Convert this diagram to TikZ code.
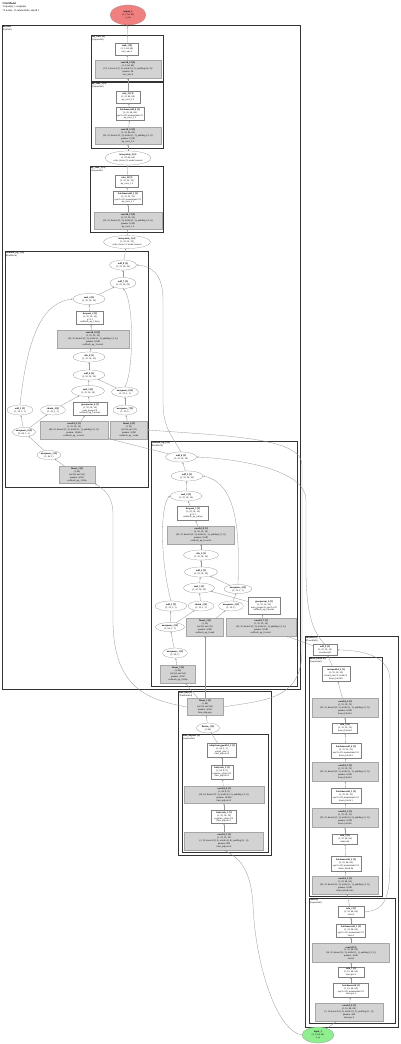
\documentclass[tikz,border=0pt]{standalone}
\usepackage{fontspec}
\setmainfont{Liberation Serif}
\usetikzlibrary{arrows.meta,positioning,shapes.geometric}
\definecolor{layerfill}{RGB}{211,211,211}
\definecolor{outfill}{RGB}{240,128,128}
\definecolor{infill}{RGB}{144,238,144}
\definecolor{linkcolor}{RGB}{150,150,150}

\begin{document}
\begin{tikzpicture}[x=1pt, y=-1pt, >={Stealth[length=1.8pt,width=1.4pt]},
    every node/.style={font=\fontsize{2.4}{2.9}\selectfont, align=center, inner sep=0.4pt},
    sz/.style 2 args={minimum width=#1pt, minimum height=#2pt},
    tensor/.style={ellipse, draw=black!50, line width=0.2pt, fill=white, inner sep=0pt},
    module/.style={rectangle, draw=black!50, line width=0.2pt, fill=white},
    layer/.style={rectangle, draw=black!35, line width=0.2pt, fill=layerfill},
    cluster/.style={draw=black!80, line width=0.7pt},
    clabel/.style={anchor=north west, align=left, inner sep=0.7pt},
    link/.style={->, draw=linkcolor, line width=0.3pt}]
  \useasboundingbox (0,0) rectangle (400,1044);
  \fill[white] (0,0) rectangle (400,1044);
  \node[anchor=north west, align=left, font=\fontsize{2.7}{3.3}\selectfont] (title) at (2,2)
    {\textbf{UNetModel}\\1 input(s), 1 output(s)\\72 nodes, 11 submodules, depth 3};
  \node[tensor, fill=outfill, draw=black!45, sz={36}{20}] (out) at (128,15) {\textbf{output\_1}\\(1, 3, 64, 64)\\x\_out};

  % clusters
  \draw[cluster] (2,25) rectangle (300,689);
  \node[clabel] at (2,25) {\textbf{decoder}\\(UpPath)};
  \draw[cluster] (91,35) rectangle (163,81);
  \node[clabel] at (91,35) {\textbf{out\_conv [4]}\\(Sequential)};
  \draw[cluster] (91,82) rectangle (163,148);
  \node[clabel] at (91,82) {\textbf{up\_conv\_2 [3]}\\(Sequential)};
  \draw[cluster] (90,166) rectangle (163,232);
  \node[clabel] at (90,166) {\textbf{up\_conv\_1 [3]}\\(Sequential)};
  \draw[cluster] (5,251) rectangle (148,487);
  \node[clabel] at (5,251) {\textbf{resblock\_up\_1 [2]}\\(ResBlock)};
  \draw[cluster] (151,441) rectangle (297,686);
  \node[clabel] at (151,441) {\textbf{resblock\_up\_0 [2]}\\(ResBlock)};
  \draw[cluster] (178,691) rectangle (271,855);
  \node[clabel] at (178,691) {\textbf{time\_mlp [1]}\\(TimeEmbed)};
  \draw[cluster] (182,734) rectangle (268,852);
  \node[clabel] at (182,734) {\textbf{time\_mlp.net [2]}\\(Sequential)};
  \draw[cluster] (305,636) rectangle (398,1027);
  \node[clabel] at (305,636) {\textbf{encoder [1]}\\(DownPath)};
  \draw[cluster] (309,657) rectangle (382,896);
  \node[clabel] at (309,657) {\textbf{down\_block [2]}\\(Sequential)};
  \draw[cluster] (309,898) rectangle (395,1023);
  \node[clabel] at (309,898) {\textbf{stem [2]}\\(Sequential)};

  % output side
  \node[module, sz={23}{12}] (b1w) at (127,49) {\textbf{tanh\_1 [4]}\\(1, 3, 64, 64)\\out\_conv.1};
  \node[layer, sz={66}{18}] (b1g) at (128,69) {\textbf{conv2d\_13 [4]}\\(1, 3, 64, 64)\\(32, 3, kernel=(1, 1), stride=(1, 1), padding=(0, 0))\\params: 99\\out\_conv.0};
  \node[module, sz={24}{12}] (b2a) at (128,97) {\textbf{relu\_12 [3]}\\(1, 32, 64, 64)\\up\_conv\_2.2};
  \node[module, sz={28}{13}] (b2b) at (130,114) {\textbf{batchnorm2d\_6 [3]}\\(1, 32, 64, 64)\\eps=1e-05, momentum=0.1\\up\_conv\_2.1};
  \node[layer, sz={66}{17}] (b2c) at (128,136) {\textbf{conv2d\_12 [3]}\\(1, 32, 64, 64)\\(32, 32, kernel=(3, 3), stride=(1, 1), padding=(1, 1))\\params: 9,248\\up\_conv\_2.0};
  \node[tensor, sz={46}{14}] (e1) at (128,158) {\textbf{interpolate\_2 [2]}\\(1, 32, 64, 64)\\scale\_factor=2, mode=nearest};
  \node[module, sz={23}{12}] (b3a) at (127,181) {\textbf{relu\_11 [3]}\\(1, 32, 32, 32)\\up\_conv\_1.2};
  \node[module, sz={29}{13}] (b3b) at (128,198) {\textbf{batchnorm2d\_5 [3]}\\(1, 32, 32, 32)\\eps=1e-05, momentum=0.1\\up\_conv\_1.1};
  \node[layer, sz={68}{17}] (b3c) at (128,221) {\textbf{conv2d\_11 [3]}\\(1, 32, 32, 32)\\(32, 32, kernel=(3, 3), stride=(1, 1), padding=(1, 1))\\params: 9,248\\up\_conv\_1.0};
  \node[tensor, sz={47}{13}] (e2) at (127,242) {\textbf{interpolate\_1 [2]}\\(1, 32, 32, 32)\\scale\_factor=2, mode=nearest};

  % resblock up 1
  \node[tensor, sz={27}{10}] (c1) at (123,265) {\textbf{add\_8 [2]}\\(1, 32, 16, 16)};
  \node[tensor, sz={26}{11}] (c2) at (123,283) {\textbf{add\_7 [3]}\\(1, 32, 16, 16)};
  \node[tensor, sz={32}{11}] (c3) at (89,299) {\textbf{mul\_4 [3]}\\(1, 32, 16, 16)};
  \node[module, sz={27}{13}] (c4) at (90,318) {\textbf{dropout\_2 [3]}\\(1, 32, 16, 16)\\p=0.1\\resblock\_up\_1.drop};
  \node[layer, sz={72}{18}] (c5) at (93,339) {\textbf{conv2d\_10 [3]}\\(1, 32, 16, 16)\\(32, 32, kernel=(3, 3), stride=(1, 1), padding=(1, 1))\\params: 9,248\\resblock\_up\_1.conv2};
  \node[tensor, sz={32}{10}] (c6) at (89,357) {\textbf{silu\_6 [3]}\\(1, 32, 16, 16)};
  \node[tensor, sz={32}{10}] (c7) at (89,375) {\textbf{add\_6 [3]}\\(1, 32, 16, 16)};
  \node[tensor, sz={33}{11}] (c8) at (88,391) {\textbf{mul\_3 [3]}\\(1, 32, 16, 16)};
  \node[tensor, sz={27}{10}] (c9) at (125,392) {\textbf{unsqueeze\_8 [3]}\\(1, 32, 1, 1)};
  \node[module, sz={34}{13}] (c10) at (90,409) {\textbf{groupnorm\_4 [3]}\\(1, 32, 16, 16)\\num\_groups=8\\resblock\_up\_1.norm1};
  \node[tensor, sz={26}{10}] (c11) at (20,410) {\textbf{add\_5 [3]}\\(1, 32, 1, 1)};
  \node[tensor, sz={25}{10}] (c12) at (53,410) {\textbf{chunk\_4 [3]}\\(1, 32, 1, 1)};
  \node[tensor, sz={24}{10}] (c13) at (125,410) {\textbf{unsqueeze\_7 [3]}\\(1, 32, 1)};
  \node[layer, sz={68}{18}] (c14) at (74,430) {\textbf{conv2d\_9 [3]}\\(1, 32, 16, 16)\\(64, 32, kernel=(3, 3), stride=(1, 1), padding=(1, 1))\\params: 18,464\\resblock\_up\_1.conv1};
  \node[layer, sz={37}{18}] (c15) at (129,430) {\textbf{linear\_6 [3]}\\(1, 32)\\(in=64, out=32)\\params: 2,080\\resblock\_up\_1.emb};
  \node[tensor, sz={22}{9}] (c16) at (24,432) {\textbf{unsqueeze\_6 [3]}\\(1, 64, 1, 1)};
  \node[tensor, sz={24}{9}] (c17) at (49,455) {\textbf{unsqueeze\_5 [3]}\\(1, 64, 1)};
  \node[layer, sz={36}{17}] (c18) at (77,475) {\textbf{linear\_5 [3]}\\(1, 64)\\(in=64, out=64)\\params: 4,160\\resblock\_up\_1.film};

  % resblock up 0
  \node[tensor, sz={31}{10}] (d1) at (181,457) {\textbf{add\_4 [2]}\\(1, 32, 16, 16)};
  \node[tensor, sz={32}{10}] (d2) at (187,476) {\textbf{add\_3 [3]}\\(1, 32, 16, 16)};
  \node[tensor, sz={32}{10}] (d3) at (186,496) {\textbf{mul\_2 [3]}\\(1, 32, 16, 16)};
  \node[module, sz={31}{14}] (d4) at (193,513) {\textbf{dropout\_1 [3]}\\(1, 32, 16, 16)\\p=0.1\\resblock\_up\_0.drop};
  \node[layer, sz={67}{18}] (d5) at (201,535) {\textbf{conv2d\_8 [3]}\\(1, 32, 16, 16)\\(32, 32, kernel=(3, 3), stride=(1, 1), padding=(1, 1))\\params: 9,248\\resblock\_up\_0.conv2};
  \node[tensor, sz={35}{10}] (d6) at (201,555) {\textbf{silu\_3 [3]}\\(1, 32, 16, 16)};
  \node[tensor, sz={33}{10}] (d7) at (201,572) {\textbf{add\_2 [3]}\\(1, 32, 16, 16)};
  \node[tensor, sz={31}{10}] (d8) at (199,588) {\textbf{mul\_1 [3]}\\(1, 32, 16, 16)};
  \node[tensor, sz={28}{9}] (d9) at (238,589) {\textbf{unsqueeze\_4 [3]}\\(1, 32, 1, 1)};
  \node[tensor, sz={32}{10}] (d10) at (171,606) {\textbf{add\_1 [3]}\\(1, 32, 1, 1)};
  \node[tensor, sz={26}{10}] (d11) at (201,606) {\textbf{chunk\_2 [3]}\\(1, 32, 1, 1)};
  \node[tensor, sz={25}{10}] (d12) at (231,606) {\textbf{unsqueeze\_3 [3]}\\(1, 32, 1)};
  \node[module, sz={32}{17}] (d13) at (264,606) {\textbf{groupnorm\_2 [3]}\\(1, 32, 16, 16)\\num\_groups=8, eps=1e-05\\resblock\_up\_0.norm1};
  \node[tensor, sz={29}{9}] (d14) at (170,627) {\textbf{unsqueeze\_2 [3]}\\(1, 64, 1, 1)};
  \node[layer, sz={37}{18}] (d15) at (205,627) {\textbf{linear\_3 [3]}\\(1, 32)\\(in=64, out=32)\\params: 2,080\\resblock\_up\_0.emb};
  \node[layer, sz={70}{18}] (d16) at (261,627) {\textbf{conv2d\_7 [3]}\\(1, 32, 16, 16)\\(32, 32, kernel=(3, 3), stride=(1, 1), padding=(1, 1))\\params: 9,248\\resblock\_up\_0.conv1};
  \node[tensor, sz={25}{10}] (d17) at (175,653) {\textbf{unsqueeze\_1 [3]}\\(1, 64, 1)};
  \node[layer, sz={35}{18}] (d18) at (178,674) {\textbf{linear\_2 [3]}\\(1, 64)\\(in=64, out=64)\\params: 4,160\\resblock\_up\_0.film};

  % time embedding
  \node[layer, sz={36}{17}] (m1) at (205,707) {\textbf{linear\_1 [2]}\\(1, 64)\\(in=64, out=64)\\params: 4,160\\time\_mlp.proj};
  \node[tensor, sz={23}{10}] (m2) at (208,728) {\textbf{flatten\_1 [2]}\\(1, 64)};
  \node[module, sz={29}{14}] (m3) at (222,750) {\textbf{adaptiveavgpool2d\_1 [3]}\\(1, 64, 1, 1)\\output\_size=1\\time\_mlp.net.4};
  \node[module, sz={22}{14}] (m4) at (222,772) {\textbf{leakyrelu\_2 [3]}\\(1, 64, 8, 8)\\negative\_slope=0.2\\time\_mlp.net.3};
  \node[layer, sz={80}{17}] (m5) at (224,795) {\textbf{conv2d\_6 [3]}\\(1, 64, 8, 8)\\(32, 64, kernel=(3, 3), stride=(2, 2), padding=(1, 1))\\params: 18,496\\time\_mlp.net.2};
  \node[module, sz={25}{13}] (m6) at (224,817) {\textbf{leakyrelu\_1 [3]}\\(1, 32, 16, 16)\\negative\_slope=0.2\\time\_mlp.net.1};
  \node[layer, sz={79}{18}] (m7) at (224,841) {\textbf{conv2d\_5 [3]}\\(1, 32, 16, 16)\\(3, 32, kernel=(3, 3), stride=(4, 4), padding=(1, 1))\\params: 896\\time\_mlp.net.0};

  % encoder
  \node[module, sz={24}{11}] (r0) at (325,650) {\textbf{add\_9 [2]}\\(1, 32, 16, 16)\\encoder.add};
  \node[module, sz={28}{15}] (r1) at (336,674) {\textbf{maxpool2d\_2 [3]}\\(1, 32, 16, 16)\\kernel\_size=2, stride=2\\down\_block.6};
  \node[layer, sz={66}{19}] (r2) at (345,708) {\textbf{conv2d\_4 [3]}\\(1, 32, 32, 32)\\(32, 32, kernel=(3, 3), stride=(1, 1), padding=(1, 1))\\params: 9,248\\down\_block.5};
  \node[module, sz={25}{10}] (r3) at (345,728) {\textbf{relu\_4 [3]}\\(1, 32, 32, 32)\\down\_block.4};
  \node[module, sz={30}{15}] (r4) at (346,751) {\textbf{batchnorm2d\_4 [3]}\\(1, 32, 32, 32)\\eps=1e-05, momentum=0.1\\down\_block.3};
  \node[layer, sz={66}{19}] (r5) at (345,772) {\textbf{conv2d\_3 [3]}\\(1, 32, 32, 32)\\(32, 32, kernel=(3, 3), stride=(1, 1), padding=(1, 1))\\params: 9,248\\down\_block.2};
  \node[module, sz={30}{15}] (r6) at (346,796) {\textbf{batchnorm2d\_3 [3]}\\(1, 32, 32, 32)\\eps=1e-05, momentum=0.1\\down\_block.1};
  \node[layer, sz={66}{19}] (r7) at (345,818) {\textbf{conv2d\_2 [3]}\\(1, 32, 32, 32)\\(32, 32, kernel=(3, 3), stride=(2, 2), padding=(1, 1))\\params: 9,248\\down\_block.0};
  \node[module, sz={25}{10}] (r8) at (345,839) {\textbf{relu\_3 [3]}\\(1, 32, 64, 64)\\stem.relu};
  \node[module, sz={30}{15}] (r9) at (346,864) {\textbf{batchnorm2d\_2 [3]}\\(1, 32, 64, 64)\\eps=1e-05, momentum=0.1\\down\_block.bn};
  \node[layer, sz={66}{18}] (r10) at (345,885) {\textbf{conv2d\_1 [3]}\\(1, 32, 64, 64)\\(32, 32, kernel=(3, 3), stride=(1, 1), padding=(1, 1))\\params: 9,248\\down\_block.conv};
  \node[module, sz={26}{11}] (s1) at (351,912) {\textbf{relu\_2 [3]}\\(1, 32, 64, 64)\\stem.2};
  \node[module, sz={29}{13}] (s2) at (351,931) {\textbf{batchnorm2d\_1 [3]}\\(1, 32, 64, 64)\\eps=1e-05, momentum=0.1\\stem.1};
  \node[layer, sz={77}{19}] (s3) at (351,953) {\textbf{conv2d [3]}\\(1, 32, 64, 64)\\(16, 32, kernel=(3, 3), stride=(1, 1), padding=(1, 1))\\params: 4,640\\stem.0};
  \node[module, sz={26}{10}] (s4) at (351,972) {\textbf{relu\_1 [3]}\\(1, 16, 64, 64)\\stem.pre.2};
  \node[module, sz={35}{14}] (s5) at (351,990) {\textbf{batchnorm2d [3]}\\(1, 16, 64, 64)\\eps=1e-05, momentum=0.1\\stem.pre.1};
  \node[layer, sz={68}{18}] (s6) at (349,1012) {\textbf{conv2d\_0 [3]}\\(1, 16, 64, 64)\\(3, 16, kernel=(3, 3), stride=(1, 1), padding=(1, 1))\\params: 448\\stem.pre.0};
  \node[tensor, fill=infill, draw=black!45, sz={32}{16}] (in) at (318,1035) {\textbf{input\_1}\\(1, 3, 64, 64)\\x\_in};

  % output chain
  \draw[link] (b1w) -- (out);
  \draw[link] (b1g) -- (b1w);
  \draw[link] (b2a) -- (b1g);
  \draw[link] (b2b) -- (b2a);
  \draw[link] (b2c) -- (b2b);
  \draw[link] (e1) -- (b2c);
  \draw[link] (b3a) -- (e1);
  \draw[link] (b3b) -- (b3a);
  \draw[link] (b3c) -- (b3b);
  \draw[link] (e2) -- (b3c);
  \draw[link] (c1) -- (e2);
  % resblock up 1
  \draw[link] (c2) -- (c1);
  \draw[link] (c3) -- (c2);
  \draw[link] (c4) -- (c3);
  \draw[link] (c5) -- (c4);
  \draw[link] (c6) -- (c5);
  \draw[link] (c7) -- (c6);
  \draw[link] (c8) -- (c7);
  \draw[link] (c9) -- (c7);
  \draw[link] (c9.north) .. controls (134,370) and (134,300) .. (c2.south);
  \draw[link] (c10) -- (c8);
  \draw[link] (c12) -- (c8);
  \draw[link] (c11.north) .. controls (28,330) and (45,302) .. (c3.west);
  \draw[link] (c13) -- (c9);
  \draw[link] (c14) -- (c10);
  \draw[link] (c15) -- (c13);
  \draw[link] (c16) -- (c11);
  \draw[link] (c16) -- (c12);
  \draw[link] (c17) -- (c16);
  \draw[link] (c18) -- (c17);
  % resblock up 0
  \draw[link] (d2) -- (d1);
  \draw[link] (d3) -- (d2);
  \draw[link] (d4) -- (d3);
  \draw[link] (d5) -- (d4);
  \draw[link] (d6) -- (d5);
  \draw[link] (d7) -- (d6);
  \draw[link] (d8) -- (d7);
  \draw[link] (d9) -- (d7);
  \draw[link] (d9.north) .. controls (239,540) and (240,484) .. (d2.east);
  \draw[link] (d11) -- (d8);
  \draw[link] (d13) -- (d8);
  \draw[link] (d10.north) .. controls (160,560) and (160,505) .. (d3.west);
  \draw[link] (d12) -- (d9);
  \draw[link] (d15) -- (d12);
  \draw[link] (d16) -- (d13);
  \draw[link] (d14) -- (d10);
  \draw[link] (d14) -- (d11);
  \draw[link] (d17) -- (d14);
  \draw[link] (d18) -- (d17);
  \draw[link] (d1) -- (c14);
  \draw[link] (d1.north) .. controls (168,430) and (163,425) .. (163,400) -- (163,300) .. controls (163,272) and (150,266) .. (c1.east);
  % time embedding
  \draw[link] (m7) -- (m6);
  \draw[link] (m6) -- (m5);
  \draw[link] (m5) -- (m4);
  \draw[link] (m4) -- (m3);
  \draw[link] (m3) -- (m2);
  \draw[link] (m2) -- (m1);
  \draw[link] (m1) -- (d18);
  \draw[link] (m1) -- (d15);
  \draw[link] (m1.west) .. controls (150,700) and (113,690) .. (113,620) -- (113,515) .. controls (113,495) and (104,490) .. (c18.south east);
  \draw[link] (m1.east) .. controls (265,700) and (302,700) .. (302,650) -- (302,465) .. controls (302,438) and (230,436) .. (c15.east);
  % encoder
  \draw[link] (in) -- (s6);
  \draw[link] (in.west) .. controls (275,1030) and (255,960) .. (253,905) .. controls (251,870) and (240,858) .. (m7.south);
  \draw[link] (s6) -- (s5);
  \draw[link] (s5) -- (s4);
  \draw[link] (s4) -- (s3);
  \draw[link] (s3) -- (s2);
  \draw[link] (s2) -- (s1);
  \draw[link] (s1) -- (r10);
  \draw[link] (r10) -- (r9);
  \draw[link] (r9) -- (r8);
  \draw[link] (r8) -- (r7);
  \draw[link] (r7) -- (r6);
  \draw[link] (r6) -- (r5);
  \draw[link] (r5) -- (r4);
  \draw[link] (r4) -- (r3);
  \draw[link] (r3) -- (r2);
  \draw[link] (r2) -- (r1);
  \draw[link] (r1) -- (r0);
  \draw[link] (s1.east) .. controls (385,910) and (390,900) .. (390,860) -- (390,680) .. controls (390,655) and (360,650) .. (r0.east);
  \draw[link] (r0) -- (d16);
  \draw[link] (r0.north) .. controls (312,632) and (306,610) .. (306,570) -- (306,500) .. controls (306,470) and (240,459) .. (d1.east);
\end{tikzpicture}
\end{document}
